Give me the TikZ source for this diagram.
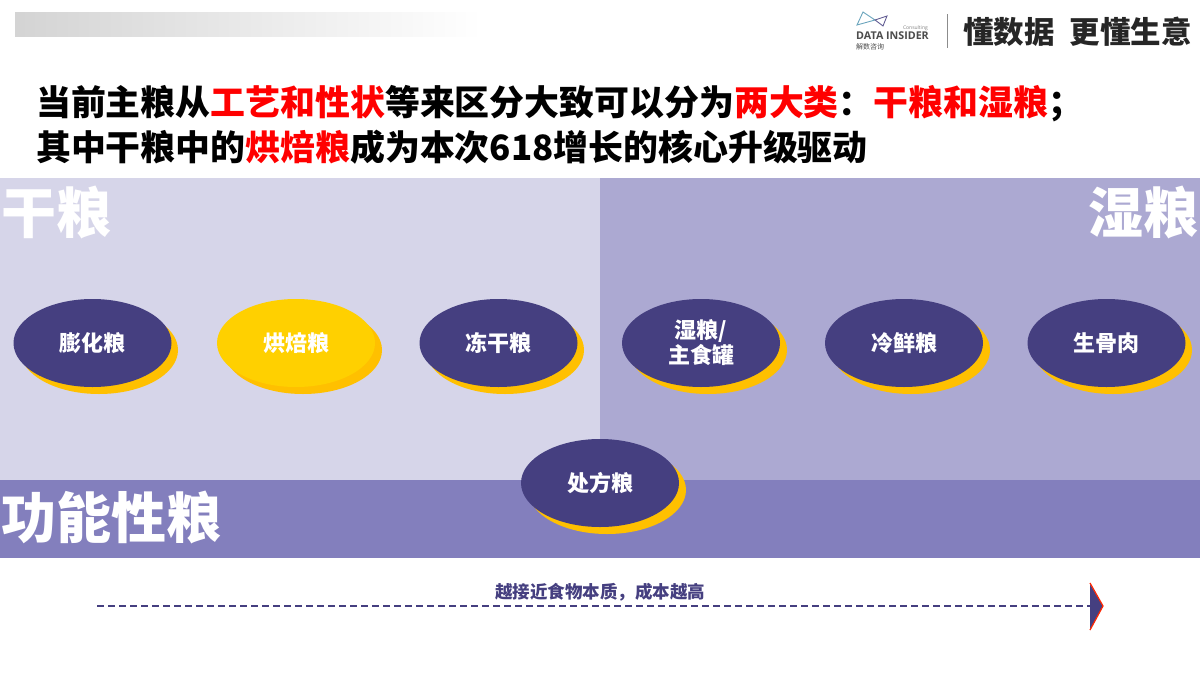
\documentclass[tikz,border=0pt]{standalone}
\usepackage{fontspec}
\setmainfont{Noto Sans CJK SC}
\newfontfamily\latinf{Open Sans}
\usetikzlibrary{shapes.geometric,shadings}
\definecolor{navy}{HTML}{453F80}
\definecolor{gold}{HTML}{FFC000}
\definecolor{lilac}{HTML}{D6D5E9}
\definecolor{midlilac}{HTML}{ACA9D2}
\definecolor{band}{HTML}{837FBD}
\definecolor{hot}{HTML}{FF0000}
\definecolor{sun}{HTML}{FFD000}
\newcommand{\dn}[1]{\raisebox{-1pt}{#1}}
\tikzset{
  x=1pt,y=-1pt,
  pill/.style={ellipse,fill=navy,minimum width=158pt,minimum height=88pt,inner sep=0pt,text=white,align=center,font=\bfseries\fontsize{22}{25}\selectfont},
  under/.style={ellipse,fill=gold,minimum width=158pt,minimum height=88pt,inner sep=0pt},
  zone/.style={text=white,font=\bfseries\fontsize{55}{60}\selectfont,inner sep=0pt},
  headline/.style={anchor=west,inner sep=0pt,font=\bfseries\fontsize{34.9}{40}\selectfont},
}
\begin{document}
\begin{tikzpicture}
\useasboundingbox (0,0) rectangle (1200,675);
\fill[white] (0,0) rectangle (1200,675);
% top gradient strip
\shade[left color=black!17,right color=white] (15,12) rectangle (482,36);
% logo
\draw[line width=.9pt,color=cyan!45!gray] (857,25) -- (863,12) -- (875,20) -- cycle;
\draw[line width=.9pt,color=navy!85] (875,20) -- (887,16) -- (883,26) -- cycle;
\node[anchor=west,inner sep=0pt,font=\latinf\bfseries\fontsize{10.7}{12}\selectfont,text=black!70] (logo) at (856,36) {DATA INSIDER};
\node[anchor=east,inner sep=0pt,font=\latinf\fontsize{5}{6}\selectfont,text=black!50] (cons) at (928,28) {Consulting};
\node[anchor=west,inner sep=0pt,font=\fontsize{7}{8}\selectfont,text=black!70] (cn) at (856,47) {解数咨询};
\draw[black!45,line width=.8pt] (947,14) -- (947,48);
\node[anchor=west,inner sep=0pt,font=\bfseries\fontsize{30.5}{36}\selectfont,text=black!85] (slogan) at (963,32) {懂数据\hspace{.5em}更懂生意};
% title
\node[headline] (t1) at (36,104) {当前主粮从\textcolor{hot}{工艺和性状}等来区分大致可以分为\textcolor{hot}{两大类}：\textcolor{hot}{干粮和湿粮}；};
\node[headline] (t2) at (36,147) {其中干粮中的\textcolor{hot}{烘焙粮}成为本次618增长的核心升级驱动};
% zones
\fill[lilac] (0,178) rectangle (600,480);
\fill[midlilac] (600,178) rectangle (1200,480);
\fill[band] (0,480) rectangle (1200,558);
\node[zone,anchor=west] (dry) at (1,212) {干粮};
\node[zone,anchor=east] (wet) at (1199,212) {湿粮};
\node[zone,anchor=west] (func) at (1,517) {功能性粮};
% ellipses
\foreach \n/\cx/\cy in {a/92/343,b/296/343,c/498/343,d/701/343,e/904/343,f/1106/343,g/600/483}{
  \node[under] (u\n) at (\cx+7,\cy+7) {};
}
\node[pill] (pa) at (92.5,343) {\dn{膨化粮}};
\node[pill,fill=sun] (pb) at (296,343) {\dn{烘焙粮}};
\node[pill] (pc) at (498.5,343) {\dn{冻干粮}};
\node[pill] (pd) at (701,343) {\dn{湿粮/}\\\dn{主食罐}};
\node[pill] (pe) at (904,343) {\dn{冷鲜粮}};
\node[pill] (pf) at (1106.5,343) {\dn{生骨肉}};
\node[pill] (pg) at (600,483) {处方粮};
% arrow
\coordinate (as) at (97,606);
\coordinate (tip) at (1090,606);
\draw[navy,line width=2.5pt,dash pattern=on 7pt off 4pt] (as) -- (tip);
\fill[navy] (1090,584) -- (1103,606) -- (1090,630) -- cycle;
\draw[color=hot!70!orange,line width=1.2pt] (1090,583) -- (1103,606) -- (1090,630);
\node[inner sep=0pt,text=navy,font=\bfseries\fontsize{17.5}{20}\selectfont] (cap) at (600,592) {越接近食物本质，成本越高};
\end{tikzpicture}
\end{document}
